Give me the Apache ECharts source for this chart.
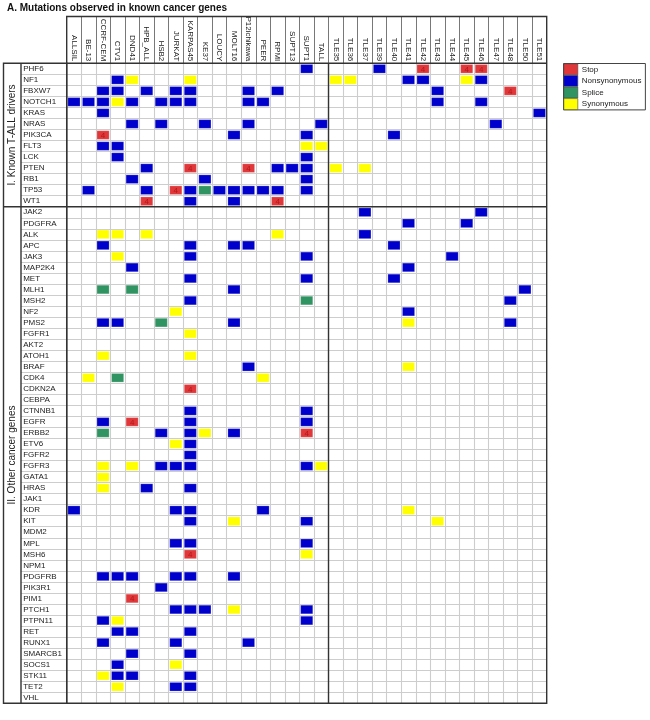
<!DOCTYPE html>
<html>
<head>
<meta charset="utf-8">
<script src="https://cdn.jsdelivr.net/npm/echarts@6/dist/echarts.min.js"></script>
<style>html,body{margin:0;padding:0;background:#fff}#c{width:650px;height:720px}</style>
</head>
<body>
<div id="c"></div>
<script>
const samples = ["ALLSIL","BE-13","CCRF-CEM","CTV1","DND41","HPB_ALL","HSB2","JURKAT","KARPAS45","KE37","LOUCY","MOLT16","P12ichikawa","PEER","RPMI","SUPT13","SUPT1","TALL","TLE35","TLE36","TLE37","TLE39","TLE40","TLE41","TLE42","TLE43","TLE44","TLE45","TLE46","TLE47","TLE48","TLE50","TLE51"];
const driverGenes = ["PHF6","NF1","FBXW7","NOTCH1","KRAS","NRAS","PIK3CA","FLT3","LCK","PTEN","RB1","TP53","WT1"];
const otherGenes = ["JAK2","PDGFRA","ALK","APC","JAK3","MAP2K4","MET","MLH1","MSH2","NF2","PMS2","FGFR1","AKT2","ATOH1","BRAF","CDK4","CDKN2A","CEBPA","CTNNB1","EGFR","ERBB2","ETV6","FGFR2","FGFR3","GATA1","HRAS","JAK1","KDR","KIT","MDM2","MPL","MSH6","NPM1","PDGFRB","PIK3R1","PIM1","PTCH1","PTPN11","RET","RUNX1","SMARCB1","SOCS1","STK11","TET2","VHL"];
const groupLabels = ["I. Known T-ALL drivers","II. Other cancer genes"];
const genes = driverGenes.concat(otherGenes);

// mutations: [gene, [samples]]
const stopMut = [
  ["PHF6",["TLE42","TLE45","TLE46"]],
  ["FBXW7",["TLE48"]],
  ["PIK3CA",["CCRF-CEM"]],
  ["PTEN",["KARPAS45","P12ichikawa"]],
  ["TP53",["JURKAT"]],
  ["WT1",["HPB_ALL","RPMI"]],
  ["CDKN2A",["KARPAS45"]],
  ["EGFR",["DND41"]],
  ["ERBB2",["SUPT1"]],
  ["MSH6",["KARPAS45"]],
  ["PIM1",["DND41"]]
];
const spliceMut = [
  ["TP53",["KE37"]],
  ["MLH1",["CCRF-CEM","DND41"]],
  ["MSH2",["SUPT1"]],
  ["PMS2",["HSB2"]],
  ["CDK4",["CTV1"]],
  ["ERBB2",["CCRF-CEM"]]
];
const synMut = [
  ["NF1",["DND41","KARPAS45","TLE35","TLE36","TLE45"]],
  ["NOTCH1",["CTV1"]],
  ["FLT3",["SUPT1","TALL"]],
  ["PTEN",["TLE35","TLE37"]],
  ["ALK",["CCRF-CEM","CTV1","HPB_ALL","RPMI"]],
  ["JAK3",["CTV1"]],
  ["NF2",["JURKAT"]],
  ["PMS2",["TLE41"]],
  ["FGFR1",["KARPAS45"]],
  ["ATOH1",["CCRF-CEM","KARPAS45"]],
  ["BRAF",["TLE41"]],
  ["CDK4",["BE-13","PEER"]],
  ["ERBB2",["KE37"]],
  ["ETV6",["JURKAT"]],
  ["FGFR3",["CCRF-CEM","DND41","TALL"]],
  ["GATA1",["CCRF-CEM"]],
  ["HRAS",["CCRF-CEM"]],
  ["KDR",["TLE41"]],
  ["KIT",["MOLT16","TLE43"]],
  ["MSH6",["SUPT1"]],
  ["PTCH1",["MOLT16"]],
  ["PTPN11",["CTV1"]],
  ["SOCS1",["JURKAT"]],
  ["STK11",["CCRF-CEM"]],
  ["TET2",["CTV1"]]
];
const nonsynMut = [
  ["PHF6",["SUPT1","TLE39"]],
  ["NF1",["CTV1","TLE41","TLE42","TLE46"]],
  ["FBXW7",["CCRF-CEM","CTV1","HPB_ALL","JURKAT","KARPAS45","P12ichikawa","RPMI","TLE43"]],
  ["NOTCH1",["ALLSIL","BE-13","CCRF-CEM","DND41","HSB2","JURKAT","KARPAS45","P12ichikawa","PEER","TLE43","TLE46"]],
  ["KRAS",["CCRF-CEM","TLE51"]],
  ["NRAS",["DND41","HSB2","KE37","P12ichikawa","TALL","TLE47"]],
  ["PIK3CA",["MOLT16","SUPT1","TLE40"]],
  ["FLT3",["CCRF-CEM","CTV1"]],
  ["LCK",["CTV1","SUPT1"]],
  ["PTEN",["HPB_ALL","RPMI","SUPT13","SUPT1"]],
  ["RB1",["DND41","KE37","SUPT1"]],
  ["TP53",["BE-13","HPB_ALL","KARPAS45","LOUCY","MOLT16","P12ichikawa","PEER","RPMI","SUPT1"]],
  ["WT1",["KARPAS45","MOLT16"]],
  ["JAK2",["TLE37","TLE46"]],
  ["PDGFRA",["TLE41","TLE45"]],
  ["ALK",["TLE37"]],
  ["APC",["CCRF-CEM","KARPAS45","MOLT16","P12ichikawa","TLE40"]],
  ["JAK3",["KARPAS45","SUPT1","TLE44"]],
  ["MAP2K4",["DND41","TLE41"]],
  ["MET",["KARPAS45","SUPT1","TLE40"]],
  ["MLH1",["MOLT16","TLE50"]],
  ["MSH2",["KARPAS45","TLE48"]],
  ["NF2",["TLE41"]],
  ["PMS2",["CCRF-CEM","CTV1","MOLT16","TLE48"]],
  ["BRAF",["P12ichikawa"]],
  ["CTNNB1",["KARPAS45","SUPT1"]],
  ["EGFR",["CCRF-CEM","KARPAS45","SUPT1"]],
  ["ERBB2",["HSB2","KARPAS45","MOLT16"]],
  ["ETV6",["KARPAS45"]],
  ["FGFR2",["KARPAS45"]],
  ["FGFR3",["HSB2","JURKAT","KARPAS45","SUPT1"]],
  ["HRAS",["HPB_ALL","KARPAS45"]],
  ["KDR",["ALLSIL","JURKAT","KARPAS45","PEER"]],
  ["KIT",["KARPAS45","SUPT1"]],
  ["MPL",["JURKAT","KARPAS45","SUPT1"]],
  ["PDGFRB",["CCRF-CEM","CTV1","DND41","JURKAT","KARPAS45","MOLT16"]],
  ["PIK3R1",["HSB2"]],
  ["PTCH1",["JURKAT","KARPAS45","KE37","SUPT1"]],
  ["PTPN11",["CCRF-CEM","SUPT1"]],
  ["RET",["CTV1","DND41","KARPAS45"]],
  ["RUNX1",["CCRF-CEM","JURKAT","P12ichikawa"]],
  ["SMARCB1",["DND41","KARPAS45"]],
  ["SOCS1",["CTV1"]],
  ["STK11",["CTV1","DND41","KARPAS45"]],
  ["TET2",["JURKAT","KARPAS45"]]
];

function flatten(list){
  const out = [];
  list.forEach(function(g){ g[1].forEach(function(s){ out.push([s, g[0]]); }); });
  return out;
}

const FONT = '"Liberation Sans", Arial, sans-serif';
const types = [
  {name:"Stop", color:"#e0373a", data:flatten(stopMut), label:"4"},
  {name:"Nonsynonymous", color:"#0000cc", data:flatten(nonsynMut)},
  {name:"Splice", color:"#2f9462", data:flatten(spliceMut)},
  {name:"Synonymous", color:"#ffff00", data:flatten(synMut)}
];

function cellRenderer(t){
  return function(params, api){
    const p = api.coord([api.value(0), api.value(1)]);
    const s = api.size([1,1]);
    const w = s[0]-2.4, h = s[1]-2.4;
    const children = [{
      type:'rect',
      shape:{x:p[0]-w/2, y:p[1]-h/2, width:w, height:h},
      style:{fill:t.color, stroke:'rgba(255,255,255,0.35)', lineWidth:0.6}
    }];
    if (t.label) {
      children.push({type:'text', style:{text:t.label, x:p[0], y:p[1]+0.5, align:'center', verticalAlign:'middle', fill:'#b01818', font:'8px ' + FONT}});
    }
    return {type:'group', children:children};
  };
}

function frameRenderer(params, api){
  const cs = params.coordSys;
  const x0 = cs.x, y0 = cs.y, x1 = cs.x + cs.width, y1 = cs.y + cs.height;
  const cw = cs.width / samples.length, rh = cs.height / genes.length;
  const xDiv = x0 + cw * samples.indexOf("TLE35");
  const yDiv = y0 + rh * driverGenes.length;
  const boxL = 3.5, boxMid = 21, headTop = 16.5;
  const ls = {stroke:'#333', lineWidth:1.4};
  const line = function(a,b,c,d){ return {type:'line', shape:{x1:a,y1:b,x2:c,y2:d}, style:ls}; };
  return {type:'group', children:[
    {type:'rect', shape:{x:x0,y:headTop,width:x1-x0,height:y1-headTop}, style:{fill:'none', stroke:'#333', lineWidth:1.4}},
    line(x0,y0,x1,y0),
    {type:'rect', shape:{x:boxL,y:y0,width:x0-boxL,height:y1-y0}, style:{fill:'none', stroke:'#333', lineWidth:1.4}},
    line(boxMid,y0,boxMid,y1),
    line(boxL,yDiv,x1,yDiv),
    line(xDiv,y0,xDiv,y1),
    {type:'text', x:(boxL+boxMid)/2, y:(y0+yDiv)/2, rotation:Math.PI/2,
      style:{text:groupLabels[0], align:'center', verticalAlign:'middle', fill:'#222', font:'10px ' + FONT}},
    {type:'text', x:(boxL+boxMid)/2, y:(yDiv+y1)/2, rotation:Math.PI/2,
      style:{text:groupLabels[1], align:'center', verticalAlign:'middle', fill:'#222', font:'10px ' + FONT}}
  ]};
}

const series = types.map(function(t){
  return {
    name:t.name, type:'custom', renderItem:cellRenderer(t),
    itemStyle:{color:t.color}, encode:{x:0, y:1}, data:t.data, z:3, silent:true
  };
});
series.push({
  name:'frame', type:'custom', renderItem:frameRenderer, data:[[samples[0], genes[0]]],
  encode:{x:0,y:1}, z:10, silent:true
});

const chart = echarts.init(document.getElementById('c'), null, {renderer:'canvas'});
chart.setOption({
  animation:false,
  backgroundColor:'#fff',
  title:{text:"A. Mutations observed in known cancer genes", left:7, top:3, padding:0,
    textStyle:{fontSize:10, fontWeight:'bold', color:'#111', fontFamily:FONT}},
  legend:{
    data:types.map(function(t){return t.name;}),
    orient:'vertical', left:563.5, top:63.5, icon:'rect',
    itemWidth:14, itemHeight:11, itemGap:0, padding:[0,4,0,0],
    borderColor:'#444', borderWidth:1,
    itemStyle:{borderColor:'#444', borderWidth:0.6},
    textStyle:{fontSize:8, color:'#222', fontFamily:FONT, padding:[0,0,0,-1]},
    selectedMode:false
  },
  grid:{left:66.7, right:103.3, top:63.3, bottom:16.7},
  xAxis:{
    type:'category', data:samples, position:'top', boundaryGap:true,
    axisLine:{show:false},
    axisTick:{show:true, interval:0, length:46.8, lineStyle:{color:'#555', width:0.8}},
    axisLabel:{interval:0, rotate:90, fontSize:8, margin:2, color:'#222', fontFamily:FONT},
    splitLine:{show:true, interval:0, lineStyle:{color:'#cdcdcd', width:1.1}}
  },
  yAxis:{
    type:'category', data:genes, inverse:true, boundaryGap:true,
    axisLine:{show:false},
    axisTick:{show:true, interval:0, length:45.7, lineStyle:{color:'#cdcdcd', width:1}},
    axisLabel:{interval:0, align:'left', margin:43.5, fontSize:8, color:'#222', fontFamily:FONT},
    splitLine:{show:true, interval:0, lineStyle:{color:'#cdcdcd', width:1.1}}
  },
  series:series
});
</script>
</body>
</html>
